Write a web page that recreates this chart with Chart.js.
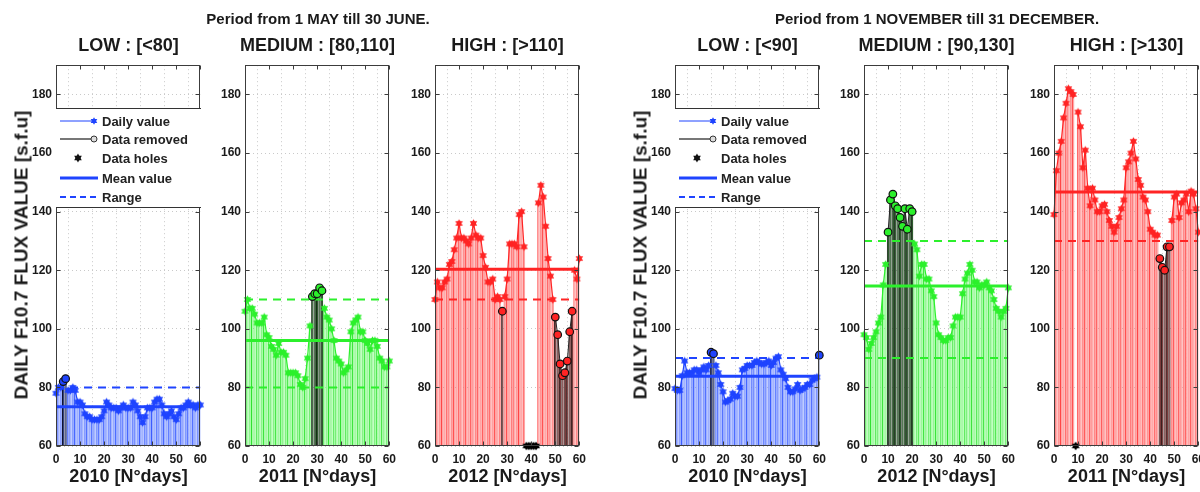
<!DOCTYPE html>
<html><head><meta charset="utf-8">
<script src="https://cdn.jsdelivr.net/npm/chart.js@4"></script>
<style>
body{margin:0;background:#fff;}
#wrap{position:relative;width:1200px;height:492px;overflow:hidden;font-family:"Liberation Sans",Arial,Helvetica,sans-serif;font-weight:bold;color:#1a1a1a;background:#fff;}
.txt{position:absolute;white-space:nowrap;transform:translate(-50%,-50%);line-height:1;}
.ylab{position:absolute;white-space:nowrap;transform:translate(-50%,-50%) rotate(-90deg);font-size:19px;line-height:1;}
canvas{position:absolute;}
.legend{position:absolute;background:#fff;border-top:1px solid #333;border-bottom:1px solid #333;font-size:13px;z-index:5;box-sizing:border-box;}
.legend .lt{position:absolute;left:46px;transform:translateY(-50%);white-space:nowrap;line-height:1;color:#222;}
</style></head>
<body>
<div id="wrap"></div>
<script>
// ---------- data ----------
const DAYS = [0,1,2,3,4,5,6,7,8,9,10,11,12,13,14,15,16,17,18,19,20,21,22,23,24,25,26,27,28,29,30,31,32,33,34,35,36,37,38,39,40,41,42,43,44,45,46,47,48,49,50,51,52,53,54,55,56,57,58,59,60];
const XTICKS = [0,10,20,30,40,50,60];
const YTICKS = [60,80,100,120,140,160,180];
const Y_MIN = 60, Y_MAX = 190;

// Period 1 MAY - 30 JUNE
const may2010 = [78,80,80,82,83,79,79,80,79,75,75,74,71,70,70,69,69,69,69,70,72,75,74,73,73,73,72,73,74,73,73,73,75,74,72,70,68,70,73,73,73,75,76,76,74,71,70,71,72,70,69,71,73,73,74,75,74,74,73,74,74];
const may2010Removed = [3,4];
const may2010Holes = [];
const may2010Mean = 73.4;
const may2010Range = [80];

const may2011 = [106,110,107,107,105,102,102,102,104,98,97,94,93,91,95,92,92,91,85,85,85,85,84,81,80,83,90,101,111,112,112,114,113,107,104,103,100,96,90,89,88,85,86,87,99,102,103,104,99,99,96,95,93,96,96,94,90,89,87,87,89];
const may2011Removed = [28,29,30,31,32];
const may2011Holes = [];
const may2011Mean = 96;
const may2011Range = [80,110];

const may2012 = [110,116,114,114,116,117,122,123,127,131,136,131,131,130,129,131,136,132,131,131,125,121,116,116,117,110,111,110,106,111,117,129,129,129,128,139,140,128,null,null,null,null,null,143,149,145,135,124,118,110,104,98,88,84,85,89,99,106,120,117,124];
const may2012Removed = [28,50,51,52,53,54,55,56,57];
const may2012Holes = [38,39,40,41,42];
const may2012Mean = 120.3;
const may2012Range = [110];

// Period 1 NOVEMBER - 31 DECEMBER
const nov2010 = [79.6,79,79,84,89,85,85,85,86,86,85,86,87,86,87.5,92,91.5,87.5,85,81,78.5,75,75.5,76,78,77,77,80,86,86.5,87.5,87.5,87.5,88.5,89,88.5,88,88,88.5,89,87.5,88.5,90,90.5,86,84.5,83,80,78.5,78.5,79.5,81,79,79.5,80,81,81,82.5,83,83.5,91];
const nov2010Removed = [15,16,60];
const nov2010Holes = [];
const nov2010Mean = 83.8;
const nov2010Range = [90];

const nov2012 = [98,97,93,95,97,99,102,104,115,122,133,144,146,142,141,138,135,141,134,141,140,129,127,118,122,122,117,117,113,111,102,98,97,96,96,97,97,101,104,104,104,112,117,119,122,120,116,116,114,115,115,116,114,113,110,107,106,104,106,107,114];
const nov2012Removed = [10,11,12,13,14,15,16,17,18,19,20];
const nov2012Holes = [];
const nov2012Mean = 114.6;
const nov2012Range = [90,130];

const nov2011 = [139,154,160,164,172,177,182,181,180,null,174,169,155,161,148,142,148,144,140,140,142,142.5,140,137,135,133,135,138,141,144,155,157,160,164,158,151,149,145,144,140,134,133,132,132,124,121,120,128,128,137,145,146,138,143,144,146,140,147,146,141,133];
const nov2011Removed = [44,45,46,47,48];
const nov2011Holes = [9];
const nov2011Mean = 146.7;
const nov2011Range = [130];

const PERIOD_TITLES = ['Period from 1 MAY till 30 JUNE.', 'Period from 1 NOVEMBER till 31 DECEMBER.'];
const PANEL_TITLES = ['LOW : [<80]','MEDIUM : [80,110]','HIGH : [>110]','LOW : [<90]','MEDIUM : [90,130]','HIGH : [>130]'];
const X_TITLES = ['2010 [N°days]','2011 [N°days]','2012 [N°days]','2010 [N°days]','2012 [N°days]','2011 [N°days]'];
const Y_TITLE = 'DAILY F10.7 FLUX VALUE [s.f.u]';
const LEGEND_LABELS = ['Daily value','Data removed','Data holes','Mean value','Range'];

// ---------- styles ----------
const BLUE  = {line:'#1f44ff', fill:'#9aaeff', edge:'#3a5cff', dark:'#34427e', darkEdge:'#0d1030'};
const GREEN = {line:'#2cf02c', fill:'#a6ffa6', edge:'#30e030', dark:'#2e5a2e', darkEdge:'#0c200c'};
const RED   = {line:'#ff2424', fill:'#ffa4a4', edge:'#ff4444', dark:'#7a3c3c', darkEdge:'#2a0c0c'};
const FONT = '"Liberation Sans", Arial, Helvetica, sans-serif';

const PANELS = [
  {vals:may2010, rem:may2010Removed, holes:may2010Holes, mean:may2010Mean, range:may2010Range, pal:BLUE, legend:true},
  {vals:may2011, rem:may2011Removed, holes:may2011Holes, mean:may2011Mean, range:may2011Range, pal:GREEN},
  {vals:may2012, rem:may2012Removed, holes:may2012Holes, mean:may2012Mean, range:may2012Range, pal:RED},
  {vals:nov2010, rem:nov2010Removed, holes:nov2010Holes, mean:nov2010Mean, range:nov2010Range, pal:BLUE, legend:true},
  {vals:nov2012, rem:nov2012Removed, holes:nov2012Holes, mean:nov2012Mean, range:nov2012Range, pal:GREEN},
  {vals:nov2011, rem:nov2011Removed, holes:nov2011Holes, mean:nov2011Mean, range:nov2011Range, pal:RED}
];
const PLOT_LEFT = [56,245,435,675,864,1054];
const PLOT_W = 145, PLOT_TOP = 64, PLOT_BOTTOM = 446;
const YAXIS_W = 40, PAD_R = 12, CANVAS_TOP = 54;

function starImg(color, r){
  const s = Math.ceil(r*2+2), c = document.createElement('canvas');
  c.width = c.height = s;
  const g = c.getContext('2d'); g.fillStyle = color;
  const cx = s/2, cy = s/2;
  for (const rot of [-Math.PI/2, Math.PI/2]) {
    g.beginPath();
    for (let k=0;k<3;k++){ const a = rot + k*2*Math.PI/3; g.lineTo(cx + r*Math.cos(a), cy + r*Math.sin(a)); }
    g.closePath(); g.fill();
  }
  return c;
}

const wrap = document.getElementById('wrap');
function addText(txt, x, y, size, cls){
  const d = document.createElement('div');
  d.className = cls || 'txt'; d.textContent = txt;
  d.style.left = x+'px'; d.style.top = y+'px'; if(size) d.style.fontSize = size+'px';
  wrap.appendChild(d); return d;
}

const framePlugin = {
  id:'frame',
  afterDraw(ch){
    const {ctx, chartArea:a, scales:{x, y}} = ch;
    ctx.save();
    ctx.strokeStyle = '#3c3c3c'; ctx.lineWidth = 1;
    const L = Math.round(a.left)+0.5, T = Math.round(a.top)+0.5, R = Math.round(a.right)-0.5, B = Math.round(a.bottom)-0.5;
    ctx.strokeRect(L, T, R-L, B-T);
    ctx.beginPath();
    XTICKS.forEach(v => { const px = Math.round(x.getPixelForValue(v))+0.5; ctx.moveTo(px, T); ctx.lineTo(px, T+4); ctx.moveTo(px, B); ctx.lineTo(px, B-4); });
    YTICKS.forEach(v => { const py = Math.round(y.getPixelForValue(v))+0.5; ctx.moveTo(L, py); ctx.lineTo(L+4, py); ctx.moveTo(R, py); ctx.lineTo(R-4, py); });
    ctx.stroke();
    ctx.restore();
  }
};

PANELS.forEach((p, i) => {
  const L = PLOT_LEFT[i];
  const cv = document.createElement('canvas');
  const W = YAXIS_W + PLOT_W + PAD_R, H = 492 - CANVAS_TOP;
  cv.width = W; cv.height = H;
  cv.style.left = (L - YAXIS_W)+'px'; cv.style.top = CANVAS_TOP+'px';
  cv.style.width = W+'px'; cv.style.height = H+'px';
  wrap.appendChild(cv);

  const pal = p.pal;
  const isRem = d => p.rem.includes(d);
  const normalBars = DAYS.filter(d => !isRem(d) && p.vals[d] != null).map(d => ({x:d, y:p.vals[d]}));
  const remBars = DAYS.filter(d => isRem(d)).map(d => ({x:d, y:p.vals[d]}));
  const dailyLine = DAYS.map(d => ({x:d, y:(isRem(d) || p.vals[d]==null) ? null : p.vals[d]}));
  const remLine = DAYS.map(d => ({x:d, y:isRem(d) ? p.vals[d] : null}));
  const holePts = p.holes.map(d => ({x:d, y:Y_MIN}));
  const dailyStar = starImg(pal.line, 4.3);
  const holeStar = starImg('#000', 4.6);

  const datasets = [
    {type:'bar', data:normalBars, backgroundColor:pal.fill, borderColor:pal.edge, borderWidth:{left:1,right:0,top:0,bottom:0}, borderSkipped:false, grouped:false, barPercentage:1, categoryPercentage:1, order:20, clip:0, inflateAmount:0},
    {type:'bar', data:remBars, backgroundColor:pal.dark, borderColor:pal.darkEdge, borderWidth:{left:1,right:0,top:0,bottom:0}, borderSkipped:false, grouped:false, barPercentage:1, categoryPercentage:1, order:19, clip:0, inflateAmount:0},
    {type:'line', data:dailyLine, borderColor:pal.line, borderWidth:1.2, pointStyle:dailyStar, pointRadius:4.3, spanGaps:false, order:5, clip:false},
    {type:'line', data:remLine, borderColor:'#222', borderWidth:1, pointStyle:'circle', pointRadius:3.8, pointBackgroundColor:pal.line, pointBorderColor:'#111', pointBorderWidth:1.2, spanGaps:false, order:4, clip:false},
    {type:'line', data:[{x:0,y:p.mean},{x:60,y:p.mean}], borderColor:pal.line, borderWidth:3, pointRadius:0, order:6, clip:0},
  ];
  p.range.forEach(r => datasets.push({type:'line', data:[{x:0,y:r},{x:60,y:r}], borderColor:pal.line, borderWidth:2, borderDash:[8,6], pointRadius:0, order:7, clip:0}));
  if (holePts.length) datasets.push({type:'line', data:holePts, showLine:false, pointStyle:holeStar, pointRadius:4.6, order:1, clip:false});

  const tickFont = {family:FONT, size:12, weight:'bold'};
  new Chart(cv, {
    type:'bar',
    data:{datasets},
    options:{
      responsive:false, animation:false, devicePixelRatio:1,
      layout:{padding:{top:PLOT_TOP-CANVAS_TOP, right:PAD_R, bottom:0, left:0}},
      plugins:{legend:{display:false}, tooltip:{enabled:false}},
      elements:{line:{tension:0}},
      scales:{
        x:{type:'linear', min:0, max:60, offset:false,
           afterBuildTicks:s => { s.ticks = XTICKS.map(v => ({value:v})); },
           ticks:{color:'#1a1a1a', font:tickFont, padding:6, maxRotation:0, autoSkip:false},
           grid:{color:'#c9c9c9', drawTicks:false, lineWidth:1},
           border:{display:false, dash:[1,3]},
           afterFit:s => { s.height = 492 - PLOT_BOTTOM; }},
        y:{type:'linear', min:Y_MIN, max:Y_MAX,
           afterBuildTicks:s => { s.ticks = YTICKS.map(v => ({value:v})); },
           ticks:{color:'#1a1a1a', font:tickFont, padding:4, autoSkip:false},
           grid:{color:'#c9c9c9', drawTicks:false, lineWidth:1},
           border:{display:false, dash:[1,3]},
           afterFit:s => { s.width = YAXIS_W; }}
      }
    },
    plugins:[framePlugin]
  });

  addText(PANEL_TITLES[i], L + PLOT_W/2, 45, 18);
  addText(X_TITLES[i], L + PLOT_W/2, 476, 18);

  if (p.legend) {
    const lg = document.createElement('div');
    lg.className = 'legend';
    lg.style.left = L+'px'; lg.style.top = '108px'; lg.style.width = PLOT_W+'px'; lg.style.height = '100px';
    const rows = [13, 31, 50, 70, 89];
    const c = pal.line;
    const starPts = (cx, cy, r) => {
      let s1 = '', s2 = '';
      for (let k=0;k<3;k++){ const a1 = -Math.PI/2 + k*2*Math.PI/3, a2 = Math.PI/2 + k*2*Math.PI/3;
        s1 += (cx + r*Math.cos(a1)).toFixed(2)+','+(cy + r*Math.sin(a1)).toFixed(2)+' ';
        s2 += (cx + r*Math.cos(a2)).toFixed(2)+','+(cy + r*Math.sin(a2)).toFixed(2)+' '; }
      return [s1, s2];
    };
    const [d1, d2] = starPts(38, rows[0], 3.8);
    const [h1, h2] = starPts(22, rows[2], 4.4);
    lg.innerHTML =
      '<svg width="'+PLOT_W+'" height="100" style="position:absolute;left:0;top:-1px">'+
      '<line x1="4" y1="'+rows[0]+'" x2="38" y2="'+rows[0]+'" stroke="'+c+'" stroke-width="1"/>'+
      '<polygon points="'+d1+'" fill="'+c+'"/><polygon points="'+d2+'" fill="'+c+'"/>'+
      '<line x1="4" y1="'+rows[1]+'" x2="35" y2="'+rows[1]+'" stroke="#777" stroke-width="2"/>'+
      '<circle cx="38" cy="'+rows[1]+'" r="3" fill="#ddd" stroke="#333" stroke-width="1"/>'+
      '<polygon points="'+h1+'" fill="#111"/><polygon points="'+h2+'" fill="#111"/>'+
      '<line x1="4" y1="'+rows[3]+'" x2="42" y2="'+rows[3]+'" stroke="'+c+'" stroke-width="3"/>'+
      '<line x1="4" y1="'+rows[4]+'" x2="42" y2="'+rows[4]+'" stroke="'+c+'" stroke-width="2" stroke-dasharray="6,4"/>'+
      '</svg>' +
      LEGEND_LABELS.map((t, k) => '<div class="lt" style="top:'+(rows[k]-1)+'px">'+t+'</div>').join('');
    wrap.appendChild(lg);
  }
});

addText(PERIOD_TITLES[0], (PLOT_LEFT[0] + PLOT_LEFT[2] + PLOT_W)/2, 18, 15);
addText(PERIOD_TITLES[1], (PLOT_LEFT[3] + PLOT_LEFT[5] + PLOT_W)/2, 18, 15);
addText(Y_TITLE, 21, 255, null, 'ylab');
addText(Y_TITLE, 640, 255, null, 'ylab');
</script>
</body></html>
